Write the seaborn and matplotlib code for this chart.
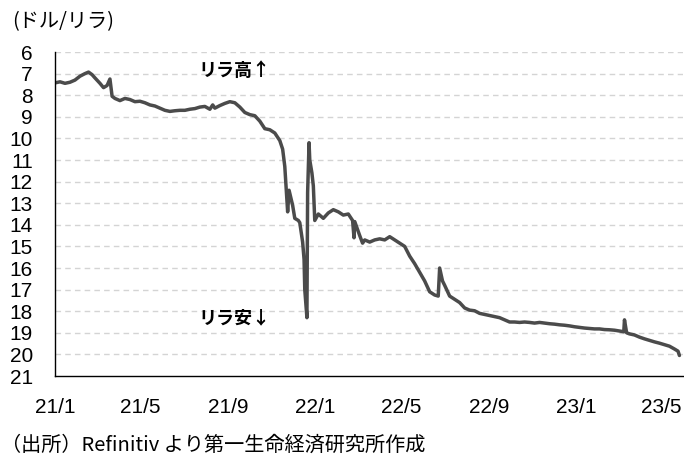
import matplotlib
matplotlib.use("Agg")
import matplotlib.pyplot as plt
import seaborn as sns
import pandas as pd

# ---- data (USD/TRY) ----
dates = [
    "2021-01-01", "2021-01-08", "2021-01-15", "2021-01-22", "2021-01-29", "2021-02-05",
    "2021-02-12", "2021-02-17", "2021-02-22", "2021-02-26", "2021-03-05", "2021-03-10",
    "2021-03-15", "2021-03-19", "2021-03-22", "2021-03-26", "2021-04-02", "2021-04-09",
    "2021-04-16", "2021-04-23", "2021-04-30", "2021-05-07", "2021-05-14", "2021-05-21",
    "2021-05-28", "2021-06-04", "2021-06-11", "2021-06-18", "2021-06-25", "2021-07-02",
    "2021-07-09", "2021-07-16", "2021-07-23", "2021-07-30", "2021-08-06", "2021-08-10",
    "2021-08-13", "2021-08-20", "2021-08-27", "2021-09-03", "2021-09-10", "2021-09-17",
    "2021-09-24", "2021-10-01", "2021-10-08", "2021-10-15", "2021-10-22", "2021-10-29",
    "2021-11-05", "2021-11-12", "2021-11-16", "2021-11-19", "2021-11-23", "2021-11-25",
    "2021-11-30", "2021-12-03", "2021-12-08", "2021-12-10", "2021-12-14", "2021-12-16",
    "2021-12-17", "2021-12-20", "2021-12-21", "2021-12-23", "2021-12-24", "2021-12-27",
    "2021-12-29", "2021-12-31", "2022-01-05", "2022-01-12", "2022-01-19", "2022-01-26",
    "2022-02-02", "2022-02-09", "2022-02-16", "2022-02-22", "2022-02-24", "2022-02-25",
    "2022-03-04", "2022-03-08", "2022-03-11", "2022-03-18", "2022-03-25", "2022-04-01",
    "2022-04-08", "2022-04-15", "2022-04-22", "2022-04-29", "2022-05-06", "2022-05-13",
    "2022-05-20", "2022-05-27", "2022-06-03", "2022-06-10", "2022-06-17", "2022-06-22",
    "2022-06-24", "2022-06-28", "2022-07-01", "2022-07-08", "2022-07-15", "2022-07-22",
    "2022-07-29", "2022-08-05", "2022-08-12", "2022-08-19", "2022-08-26", "2022-09-02",
    "2022-09-09", "2022-09-16", "2022-09-23", "2022-09-30", "2022-10-07", "2022-10-14",
    "2022-10-21", "2022-10-28", "2022-11-04", "2022-11-11", "2022-11-18", "2022-11-25",
    "2022-12-02", "2022-12-09", "2022-12-16", "2022-12-23", "2022-12-30", "2023-01-06",
    "2023-01-13", "2023-01-20", "2023-01-27", "2023-02-03", "2023-02-10", "2023-02-17",
    "2023-02-24", "2023-03-03", "2023-03-09", "2023-03-10", "2023-03-13", "2023-03-17",
    "2023-03-24", "2023-03-31", "2023-04-07", "2023-04-14", "2023-04-21", "2023-04-28",
    "2023-05-05", "2023-05-12", "2023-05-19", "2023-05-24", "2023-05-26",
]
rates = [
    7.43, 7.38, 7.45, 7.40, 7.30, 7.12,
    7.00, 6.93, 7.05, 7.20, 7.45, 7.65,
    7.55, 7.25, 8.05, 8.15, 8.25, 8.15,
    8.20, 8.30, 8.28, 8.35, 8.45, 8.50,
    8.60, 8.70, 8.75, 8.72, 8.70, 8.70,
    8.65, 8.62, 8.55, 8.52, 8.65, 8.45,
    8.60, 8.48, 8.38, 8.30, 8.35, 8.55,
    8.80, 8.90, 8.95, 9.20, 9.55, 9.60,
    9.75, 10.10, 10.50, 11.30, 13.40, 12.40,
    13.10, 13.70, 13.80, 13.90, 14.80, 15.60,
    17.00, 18.30, 12.50, 10.20, 11.00, 11.60,
    12.20, 13.80, 13.50, 13.70, 13.45, 13.30,
    13.40, 13.55, 13.50, 13.80, 14.60, 13.85,
    14.50, 14.85, 14.70, 14.80, 14.70, 14.65,
    14.70, 14.55, 14.70, 14.85, 15.00, 15.45,
    15.80, 16.20, 16.60, 17.10, 17.25, 17.30,
    16.00, 16.60, 16.80, 17.30, 17.45, 17.60,
    17.85, 17.95, 17.98, 18.10, 18.15, 18.20,
    18.25, 18.30, 18.40, 18.50, 18.50, 18.52,
    18.50, 18.52, 18.55, 18.52, 18.55, 18.58,
    18.60, 18.63, 18.65, 18.68, 18.72, 18.75,
    18.78, 18.80, 18.82, 18.82, 18.85, 18.86,
    18.88, 18.92, 18.95, 18.40, 19.00, 19.05,
    19.10, 19.20, 19.28, 19.35, 19.42, 19.48,
    19.55, 19.62, 19.75, 19.85, 20.05,
]
tick_dates = ["2021-01-01", "2021-05-01", "2021-09-01", "2022-01-01",
              "2022-05-01", "2022-09-01", "2023-01-01", "2023-05-01"]
tick_labels = ["21/1", "21/5", "21/9", "22/1", "22/5", "22/9", "23/1", "23/5"]
y_ticks = list(range(6, 22))

sns.set_theme(style="white")
plt.rcParams["font.family"] = ["Liberation Sans", "Noto Sans CJK JP", "DejaVu Sans"]
jp = ["Noto Sans CJK JP", "DejaVu Sans"]

df = pd.DataFrame({"date": pd.to_datetime(dates), "rate": rates})

fig = plt.figure(figsize=(6.84, 4.55), dpi=100)
ax = fig.add_axes([55 / 684, 1 - 376 / 455, (683 - 55) / 684, (376 - 52) / 455])

for v in y_ticks[:-1]:
    ax.axhline(v, color="#d4d4d4", lw=1.0, ls=(0, (4, 3)), zorder=0)

sns.lineplot(data=df, x="date", y="rate", ax=ax, color="#4b4b4b", linewidth=2.5)

ax.set_ylim(21, 6)
ax.set_yticks(y_ticks)
ax.set_yticklabels([str(v) for v in y_ticks])
ax.set_xlim(pd.Timestamp("2021-01-01"), pd.Timestamp("2023-05-31"))
ax.set_xticks(pd.to_datetime(tick_dates))
ax.set_xticklabels(tick_labels)
ax.set_xlabel("")
ax.set_ylabel("")

for s in ["top", "right"]:
    ax.spines[s].set_visible(False)
for s in ["left", "bottom"]:
    ax.spines[s].set_color("black")
    ax.spines[s].set_linewidth(1.0)

ax.tick_params(axis="y", length=0, labelsize=15, pad=16, colors="black")
ax.tick_params(axis="x", direction="in", length=5, width=1, color="#808080",
               labelsize=15, pad=16, labelcolor="black")

ax.text(pd.Timestamp("2021-09-10"), 6.85, "リラ高↑", ha="center", va="center",
        fontsize=13, fontweight="bold", family=jp, color="black")
ax.text(pd.Timestamp("2021-09-10"), 18.3, "リラ安↓", ha="center", va="center",
        fontsize=13, fontweight="bold", family=jp, color="black")

fig.text(12 / 684, 1 - 22 / 455, "(ドル/リラ)", ha="left", va="center",
         fontsize=14.5, family=jp, color="black")
fig.text(1 / 684, 1 - 445 / 455, "（出所）Refinitiv より第一生命経済研究所作成",
         ha="left", va="center", fontsize=14.5, family=jp, color="black")

fig.savefig("out.png", dpi=100)
